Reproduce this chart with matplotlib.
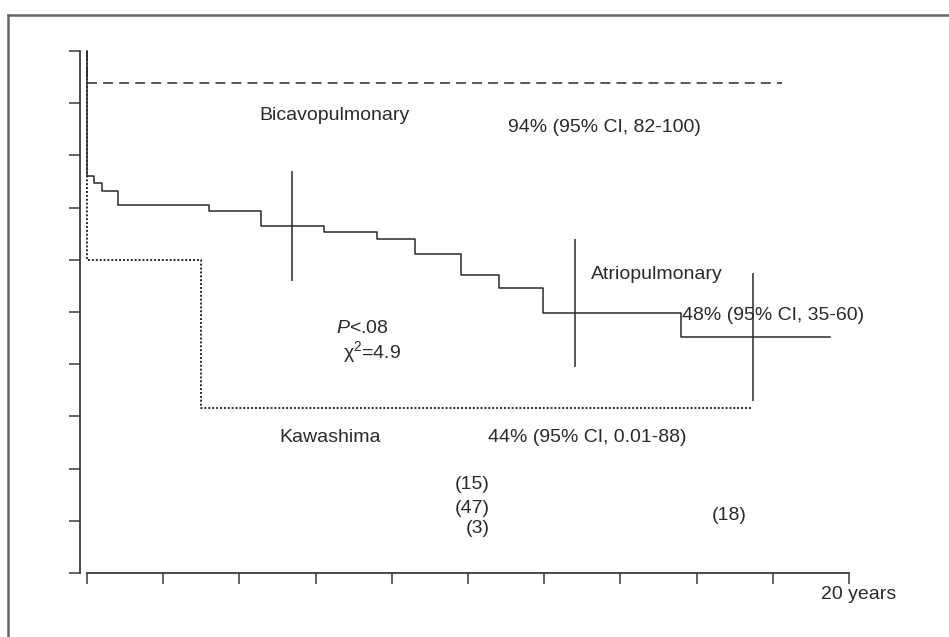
import matplotlib
matplotlib.use("Agg")
import matplotlib.pyplot as plt
from matplotlib.lines import Line2D

# survival curves (years, fraction surviving)
atrio_t = [0, 0, 0.18, 0.39, 0.81, 3.2, 4.57, 6.22, 7.61, 8.61, 9.82, 10.81, 11.97, 15.59, 19.5]
atrio_s = [1.0, 0.760, 0.747, 0.732, 0.705, 0.693, 0.664, 0.653, 0.640, 0.611, 0.571, 0.546, 0.498, 0.452, 0.452]

kawa_t = [0, 0, 2.99, 17.45]
kawa_s = [1.0, 0.599, 0.316, 0.316]

bicavo_t = [0, 0, 18.24]
bicavo_s = [1.0, 0.938, 0.938]

# vertical confidence bars
ci_t = [5.38, 12.81, 17.48]
ci_low = [0.559, 0.394, 0.329]
ci_high = [0.770, 0.640, 0.574]

# numbers at risk
risk_labels = ['(15)', '(47)', '(3)']
risk_y = [0.169, 0.124, 0.086]
risk_x = 10.58

x_ticks = list(range(0, 21, 2))
y_ticks = [i / 10 for i in range(11)]

plt.rcParams['font.family'] = ['Liberation Sans', 'DejaVu Sans']
plt.rcParams['mathtext.fontset'] = 'custom'
plt.rcParams['mathtext.rm'] = 'Liberation Sans'
plt.rcParams['mathtext.it'] = 'Liberation Sans:italic'
ink = '#2a2a2a'

fig = plt.figure(figsize=(9.49, 6.37), dpi=100)
ax = fig.add_axes([87 / 949, 64 / 637, 762 / 949, 522 / 637])

lw = 1.1
ax.step(kawa_t, kawa_s, where='post', color=ink, lw=1.4, linestyle=(0, (1.0, 1.0)), clip_on=False)
ax.step(bicavo_t, bicavo_s, where='post', color=ink, lw=lw, linestyle=(0, (6.5, 4.0)), clip_on=False)
ax.step(atrio_t, atrio_s, where='post', color=ink, lw=lw, clip_on=False)
ax.vlines(ci_t, ci_low, ci_high, color=ink, lw=lw)

ax.set_xlim(0, 20)
ax.set_ylim(0, 1)
ax.set_xticks(x_ticks)
ax.set_yticks(y_ticks)
ax.set_xticklabels([])
ax.set_yticklabels([])
ax.tick_params(axis='both', direction='out', length=8, width=1.1, color='#3a3a3a')

for side in ['top', 'right']:
    ax.spines[side].set_visible(False)
ax.spines['left'].set_position(('outward', 5))
for side in ['left', 'bottom']:
    ax.spines[side].set_linewidth(1.3)
    ax.spines[side].set_color('#3a3a3a')

fs = 14
ax.text(6.50, 0.877, 'Bicavopulmonary', fontsize=fs, color=ink, ha='center', va='center')
ax.text(13.57, 0.854, '94% (95% CI, 82-100)', fontsize=fs, color=ink, ha='center', va='center')
ax.text(14.95, 0.571, 'Atriopulmonary', fontsize=fs, color=ink, ha='center', va='center')
ax.text(18.0, 0.494, '48% (95% CI, 35-60)', fontsize=fs, color=ink, ha='center', va='center')
ax.text(7.22, 0.468, r'$P$<.08', fontsize=fs, color=ink, ha='center', va='center')
ax.text(7.47, 0.424, r'$\mathrm{\chi}^{2}$=4.9', fontsize=fs, color=ink, ha='center', va='center')
ax.text(6.39, 0.260, 'Kawashima', fontsize=fs, color=ink, ha='center', va='center')
ax.text(13.12, 0.260, '44% (95% CI, 0.01-88)', fontsize=fs, color=ink, ha='center', va='center')
for lab, yy in zip(risk_labels, risk_y):
    ax.text(risk_x, yy, lab, fontsize=fs, color=ink, ha='right', va='center')
ax.text(16.86, 0.111, '(18)', fontsize=fs, color=ink, ha='center', va='center')
ax.text(20.25, -0.042, '20 years', fontsize=fs, color=ink, ha='center', va='center', clip_on=False)

# frame around the figure, only top and left edges visible
top = 1 - 15 / 637
left = 8 / 949
fig.add_artist(Line2D([left, 1.0], [top, top], color='#666666', lw=1.8))
fig.add_artist(Line2D([left, left], [0.0, top], color='#666666', lw=1.8))

fig.savefig('out.png', dpi=100)
plt.close(fig)
